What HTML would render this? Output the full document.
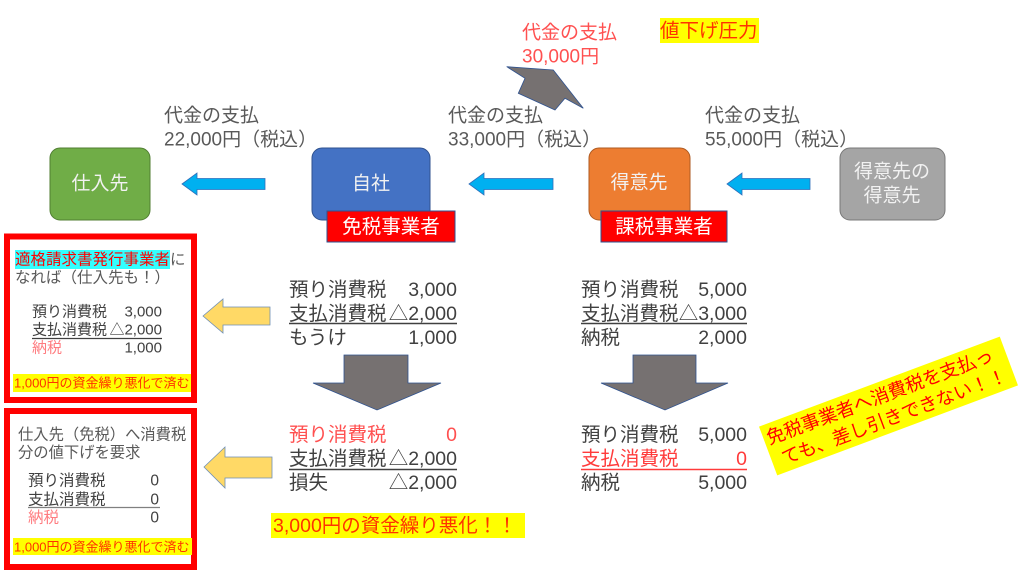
<!DOCTYPE html>
<html><head><meta charset="utf-8">
<style>
html,body{margin:0;padding:0;background:#fff;}
svg{display:block;}
text{font-family:"Liberation Sans","Noto Sans CJK JP",sans-serif;}
</style></head>
<body>
<svg width="1024" height="579" viewBox="0 0 1024 579" xmlns="http://www.w3.org/2000/svg">
<rect width="1024" height="579" fill="#fff"/>

<!-- top red label and pressure -->
<g font-size="19" fill="#FF5050">
<text x="522" y="33" dominant-baseline="central">代金の支払</text>
<text x="522" y="57" dominant-baseline="central">30,000円</text>
</g>
<rect x="660" y="18" width="99" height="25" fill="#FFFF00"/>
<text x="660" y="31" font-size="19.5" fill="#FF3300" dominant-baseline="central">値下げ圧力</text>

<!-- grey tilted arrow -->
<polygon points="506.7,66.7 553.3,70 583.3,108.3 565,98.3 555,110 518.3,93.3 525,78.3" fill="#767171" stroke="#2F528F" stroke-width="0.8"/>

<!-- payment labels -->
<g font-size="19" fill="#595959">
<text x="164" y="116" dominant-baseline="central">代金の支払</text>
<text x="164" y="140" dominant-baseline="central">22,000円（税込）</text>
<text x="448" y="116" dominant-baseline="central">代金の支払</text>
<text x="448" y="140" dominant-baseline="central">33,000円（税込）</text>
<text x="705" y="116" dominant-baseline="central">代金の支払</text>
<text x="705" y="140" dominant-baseline="central">55,000円（税込）</text>
</g>

<!-- nodes -->
<rect x="50" y="148" width="100" height="72" rx="10" fill="#70AD47" stroke="#507E32" stroke-width="1"/>
<rect x="312" y="148" width="118" height="72" rx="10" fill="#4472C4" stroke="#2F528F" stroke-width="1"/>
<rect x="589" y="148" width="101" height="72" rx="10" fill="#ED7D31" stroke="#AE5A21" stroke-width="1"/>
<rect x="840" y="148" width="105" height="72" rx="10" fill="#A5A5A5" stroke="#787878" stroke-width="1"/>
<g font-size="19" fill="#F2F2F2" text-anchor="middle">
<text x="100" y="184" dominant-baseline="central">仕入先</text>
<text x="371" y="184" dominant-baseline="central">自社</text>
<text x="639" y="183" dominant-baseline="central">得意先</text>
<text x="892" y="172" dominant-baseline="central">得意先の</text>
<text x="892" y="196" dominant-baseline="central">得意先</text>
</g>

<!-- red tags -->
<rect x="327" y="211" width="128" height="31" fill="#FF0000" stroke="#2F528F" stroke-width="1"/>
<rect x="601" y="211" width="126" height="31" fill="#FF0000" stroke="#2F528F" stroke-width="1"/>
<g font-size="19.5" fill="#FFFFFF" text-anchor="middle">
<text x="391" y="227" dominant-baseline="central">免税事業者</text>
<text x="664" y="227" dominant-baseline="central">課税事業者</text>
</g>

<!-- blue arrows -->
<g fill="#00B0F0" stroke="#2F6EBA" stroke-width="0.8">
<polygon points="182,184 197,173 197,178.5 265,178.5 265,189.5 197,189.5 197,195"/>
<polygon points="469,184 484,173 484,178.5 553,178.5 553,189.5 484,189.5 484,195"/>
<polygon points="727,184 742,173 742,178.5 810,178.5 810,189.5 742,189.5 742,195"/>
</g>

<!-- middle blocks -->
<g font-size="19.5" fill="#404040">
<text x="289" y="290" dominant-baseline="central">預り消費税</text>
<text x="457" y="290" text-anchor="end" dominant-baseline="central">3,000</text>
<text x="289" y="314" dominant-baseline="central">支払消費税</text>
<text x="457" y="314" text-anchor="end" dominant-baseline="central">△2,000</text>
<text x="289" y="338" dominant-baseline="central">もうけ</text>
<text x="457" y="338" text-anchor="end" dominant-baseline="central">1,000</text>

<text x="289" y="435" fill="#FF5050" dominant-baseline="central">預り消費税</text>
<text x="457" y="435" fill="#FF5050" text-anchor="end" dominant-baseline="central">0</text>
<text x="289" y="459" dominant-baseline="central">支払消費税</text>
<text x="457" y="459" text-anchor="end" dominant-baseline="central">△2,000</text>
<text x="289" y="483" dominant-baseline="central">損失</text>
<text x="457" y="483" text-anchor="end" dominant-baseline="central">△2,000</text>

<text x="581" y="290" dominant-baseline="central">預り消費税</text>
<text x="747" y="290" text-anchor="end" dominant-baseline="central">5,000</text>
<text x="581" y="314" dominant-baseline="central">支払消費税</text>
<text x="747" y="314" text-anchor="end" dominant-baseline="central">△3,000</text>
<text x="581" y="338" dominant-baseline="central">納税</text>
<text x="747" y="338" text-anchor="end" dominant-baseline="central">2,000</text>

<text x="581" y="435" dominant-baseline="central">預り消費税</text>
<text x="747" y="435" text-anchor="end" dominant-baseline="central">5,000</text>
<text x="581" y="459" fill="#FF3B3B" dominant-baseline="central">支払消費税</text>
<text x="747" y="459" fill="#FF3B3B" text-anchor="end" dominant-baseline="central">0</text>
<text x="581" y="483" dominant-baseline="central">納税</text>
<text x="747" y="483" text-anchor="end" dominant-baseline="central">5,000</text>
</g>
<g stroke-width="1.4">
<line x1="289" y1="323.5" x2="457" y2="323.5" stroke="#404040"/>
<line x1="289" y1="469.5" x2="457" y2="469.5" stroke="#404040"/>
<line x1="581" y1="323.5" x2="747" y2="323.5" stroke="#404040"/>
<line x1="581" y1="469.5" x2="747" y2="469.5" stroke="#FF3B3B"/>
</g>

<!-- big grey down arrows -->
<g fill="#767171" stroke="#2F528F" stroke-width="0.8">
<polygon points="344,355 408,355 408,383 441,383 377,410 313,383 344,383"/>
<polygon points="633,355 696,355 696,383 728,383 665,410 601,383 633,383"/>
</g>

<!-- yellow left arrows -->
<g fill="#FFD966" stroke="#6F8FB5" stroke-width="0.8">
<polygon points="203,316 223,299 223,307 270,307 270,325 223,325 223,333"/>
<polygon points="204,467 225,447 225,457 272,457 272,478 225,478 225,488"/>
</g>

<!-- 3,000 highlight -->
<rect x="271" y="513" width="254" height="25" fill="#FFFF00"/>
<text x="273" y="526" font-size="19.5" fill="#FF3300" dominant-baseline="central">3,000円の資金繰り悪化！！</text>

<!-- left box 1 -->
<rect x="7" y="236.5" width="187" height="163.5" fill="#fff" stroke="#FF0000" stroke-width="6"/>
<rect x="15" y="250" width="155" height="19" fill="#33FFFF"/>
<text x="15" y="260" font-size="15.5" fill="#FF0000" dominant-baseline="central">適格請求書発行事業者</text>
<text x="170" y="260" font-size="15.5" fill="#595959" dominant-baseline="central">に</text>
<text x="15" y="278" font-size="15.5" fill="#595959" dominant-baseline="central">なれば（仕入先も！）</text>
<g font-size="15" fill="#404040">
<text x="32" y="312" dominant-baseline="central">預り消費税</text>
<text x="162" y="312" text-anchor="end" dominant-baseline="central">3,000</text>
<text x="32" y="330" dominant-baseline="central">支払消費税</text>
<text x="162" y="330" text-anchor="end" dominant-baseline="central">△2,000</text>
<text x="32" y="348" fill="#FF7C80" dominant-baseline="central">納税</text>
<text x="162" y="348" text-anchor="end" dominant-baseline="central">1,000</text>
</g>
<line x1="32" y1="338.5" x2="162" y2="338.5" stroke="#404040" stroke-width="1.2"/>
<rect x="13" y="374" width="178" height="18" fill="#FFFF00"/>
<text x="14" y="383" font-size="13" fill="#FF3300" dominant-baseline="central">1,000円の資金繰り悪化で済む</text>

<!-- left box 2 -->
<rect x="7" y="411" width="187" height="156" fill="#fff" stroke="#FF0000" stroke-width="6"/>
<text x="18" y="435" font-size="15.3" fill="#595959" dominant-baseline="central">仕入先（免税）へ消費税</text>
<text x="18" y="453" font-size="15.3" fill="#595959" dominant-baseline="central">分の値下げを要求</text>
<g font-size="15.5" fill="#404040">
<text x="28" y="481" dominant-baseline="central">預り消費税</text>
<text x="159" y="481" text-anchor="end" dominant-baseline="central">0</text>
<text x="28" y="500" dominant-baseline="central">支払消費税</text>
<text x="159" y="500" text-anchor="end" dominant-baseline="central">0</text>
<text x="28" y="518" fill="#FF7C80" dominant-baseline="central">納税</text>
<text x="159" y="518" text-anchor="end" dominant-baseline="central">0</text>
</g>
<line x1="28" y1="507.5" x2="160" y2="507.5" stroke="#808080" stroke-width="1.2"/>
<rect x="13" y="538" width="179" height="17" fill="#FFFF00"/>
<text x="14" y="547" font-size="13" fill="#FF3300" dominant-baseline="central">1,000円の資金繰り悪化で済む</text>

<!-- rotated note -->
<g transform="translate(888.5,406) rotate(-20.5)">
<rect x="-128.5" y="-26" width="257" height="52" fill="#FFFF00"/>
<text x="-125" y="-12" font-size="18.5" fill="#FF0000" dominant-baseline="central">免税事業者へ消費税を支払っ</text>
<text x="-118" y="12" font-size="18.5" fill="#FF0000" dominant-baseline="central">ても、差し引きできない！！</text>
</g>
</svg>
</body></html>
